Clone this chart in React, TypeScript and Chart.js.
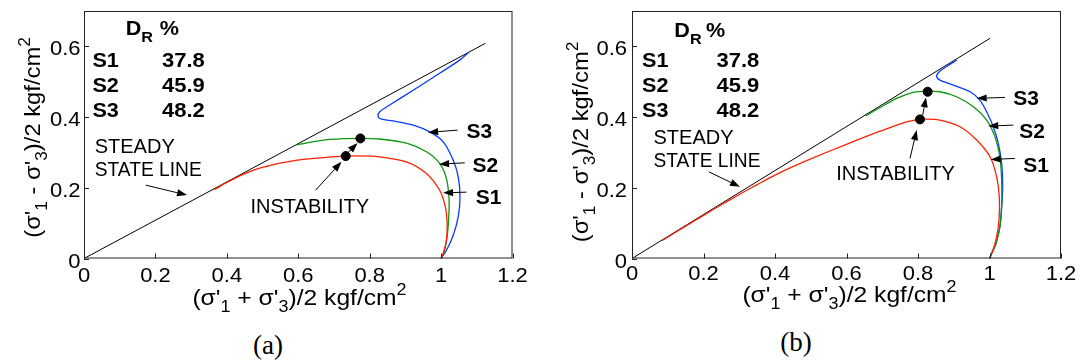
import React, { useEffect, useRef } from 'react';
import { Chart, registerables } from 'chart.js';

Chart.register(...registerables);

const FONT = "'Liberation Sans', Arial, Helvetica, sans-serif";
const RED = '#ff2000';
const GREEN = '#0c960c';
const BLUE = '#0a3cff';

// ---- axes ----
const X_TICKS = [0, 0.2, 0.4, 0.6, 0.8, 1, 1.2];
const X_TICK_LABELS = ['0', '0.2', '0.4', '0.6', '0.8', '1', '1.2'];
const Y_TICKS = [0, 0.2, 0.4, 0.6];
const Y_TICK_LABELS = ['0', '0.2', '0.4', '0.6'];

// ---- legend table ----
const SERIES_NAMES = ['S1', 'S2', 'S3'];
const DR_VALUES = ['37.8', '45.9', '48.2'];

// ---- panel (a) ----
const A_STEADY_X = [0, 1.124];
const A_STEADY_Y = [0, 0.6086];
const A_S1_X = [0.365, 0.404, 0.45, 0.5, 0.597, 0.694, 0.762, 0.828, 0.903, 0.959, 0.996, 1.012, 1.017, 1.015, 1.006, 1.0];
const A_S1_Y = [0.195, 0.217, 0.24, 0.258, 0.278, 0.2876, 0.2905, 0.2877, 0.2735, 0.2405, 0.193, 0.146, 0.099, 0.052, 0.014, 0];
const A_S2_X = [0.595, 0.64, 0.688, 0.772, 0.828, 0.903, 0.959, 0.996, 1.015, 1.022, 1.022, 1.018, 1.01, 1.0];
const A_S2_Y = [0.321, 0.33, 0.337, 0.34, 0.338, 0.326, 0.302, 0.269, 0.226, 0.174, 0.127, 0.071, 0.0235, 0];
const A_S3_X = [1.078, 1.052, 0.996, 0.922, 0.856, 0.828, 0.8235, 0.833, 0.866, 0.922, 0.968, 1.006, 1.034, 1.048, 1.053, 1.048, 1.034, 1.015, 1.0];
const A_S3_Y = [0.583, 0.561, 0.524, 0.476, 0.434, 0.415, 0.401, 0.394, 0.389, 0.377, 0.358, 0.33, 0.278, 0.231, 0.174, 0.118, 0.066, 0.0235, 0];
const A_INST_X = [0.733, 0.774];
const A_INST_Y = [0.2896, 0.3396];

// ---- panel (b) ----
const B_STEADY_X = [0, 1.0014];
const B_STEADY_Y = [0, 0.6227];
const B_S1_X = [0.085, 0.15, 0.2, 0.25, 0.3, 0.35, 0.4, 0.45, 0.5, 0.6, 0.694, 0.768, 0.815, 0.8615, 0.9175, 0.964, 1.0014, 1.02, 1.0275, 1.0266, 1.018, 1.006, 1.0];
const B_S1_Y = [0.051, 0.0915, 0.122, 0.152, 0.181, 0.209, 0.236, 0.26, 0.282, 0.323, 0.36, 0.3866, 0.394, 0.3915, 0.3725, 0.335, 0.2876, 0.231, 0.174, 0.108, 0.052, 0.014, 0];
const B_S2_X = [0.6545, 0.694, 0.74, 0.787, 0.824, 0.8615, 0.908, 0.955, 0.992, 1.0154, 1.029, 1.034, 1.034, 1.029, 1.018, 1.006, 1.0];
const B_S2_Y = [0.4036, 0.427, 0.453, 0.47, 0.4735, 0.4716, 0.4574, 0.429, 0.3915, 0.344, 0.2876, 0.2216, 0.146, 0.0894, 0.0425, 0.014, 0];
const B_S3_X = [0.908, 0.88, 0.86, 0.852, 0.8615, 0.899, 0.9455, 0.973, 0.992, 1.0106, 1.0246, 1.034, 1.037, 1.034, 1.029, 1.018, 1.006, 1.0];
const B_S3_Y = [0.561, 0.543, 0.529, 0.515, 0.5047, 0.4905, 0.4716, 0.448, 0.415, 0.3725, 0.3255, 0.269, 0.203, 0.146, 0.0894, 0.0425, 0.014, 0];
const B_INST_X = [0.8056, 0.827];
const B_INST_Y = [0.3934, 0.4716];

type Seg = { t: string; k: 'n' | 'sub' | 'sup' };
const X_TITLE: Seg[] = [
  { t: "(σ'", k: 'n' }, { t: '1', k: 'sub' }, { t: " + σ'", k: 'n' }, { t: '3', k: 'sub' },
  { t: ')/2 kgf/cm', k: 'n' }, { t: '2', k: 'sup' },
];
const Y_TITLE: Seg[] = [
  { t: "(σ'", k: 'n' }, { t: '1', k: 'sub' }, { t: " - σ'", k: 'n' }, { t: '3', k: 'sub' },
  { t: ')/2 kgf/cm', k: 'n' }, { t: '2', k: 'sup' },
];

type Pt = [number, number];
type Arrow = [number, number, number, number];
interface Layout {
  width: number;
  height: number;
  plotLeft: number;
  plotRight: number;
  plotTop: number;
  plotBottom: number;
  xLabelBase: number; // px baseline of x tick labels
  yLabelGap: number; // px gap between y labels and axis
  xTitle: [number, number]; // px centre x, baseline y
  yTitle: [number, number]; // px baseline x, centre y
  drLabel: Pt;
  drPercentX: number;
  rowsX: number;
  valuesX: number;
  rowsY: number[];
  steady: Pt;
  steadyGap: number;
  steadyArrow: Arrow;
  inst: Pt;
  instArrow: Arrow;
  dotArrow: Arrow;
  sLabels: Pt[];
  sArrows: Arrow[];
}

const zip = (xs: number[], ys: number[]) => xs.map((x, i) => ({ x, y: ys[i] }));

function text(ctx: CanvasRenderingContext2D, s: string, x: number, y: number, font: string, align: CanvasTextAlign, hs: number) {
  ctx.save();
  ctx.font = font;
  ctx.textAlign = align;
  ctx.textBaseline = 'alphabetic';
  ctx.translate(x, y);
  ctx.scale(hs, 1);
  ctx.fillText(s, 0, 0);
  ctx.restore();
}

function drawRich(ctx: CanvasRenderingContext2D, segs: Seg[], size: number, small: number) {
  // draws centred on (0,0) baseline
  let total = 0;
  const widths = segs.map((s) => {
    ctx.font = `${s.k === 'n' ? size : small}px ${FONT}`;
    const w = ctx.measureText(s.t).width;
    total += w;
    return w;
  });
  let x = -total / 2;
  ctx.textAlign = 'left';
  ctx.textBaseline = 'alphabetic';
  segs.forEach((s, i) => {
    ctx.font = `${s.k === 'n' ? size : small}px ${FONT}`;
    const dy = s.k === 'sub' ? size * 0.3 : s.k === 'sup' ? -size * 0.45 : 0;
    ctx.fillText(s.t, x, dy);
    x += widths[i];
  });
}

function drawArrow(ctx: CanvasRenderingContext2D, x1: number, y1: number, x2: number, y2: number) {
  const ang = Math.atan2(y2 - y1, x2 - x1);
  const hl = 10;
  const hw = 3.6;
  const bx = x2 - hl * Math.cos(ang);
  const by = y2 - hl * Math.sin(ang);
  ctx.beginPath();
  ctx.moveTo(x1, y1);
  ctx.lineTo(bx, by);
  ctx.lineWidth = 1;
  ctx.strokeStyle = '#000';
  ctx.stroke();
  ctx.beginPath();
  ctx.moveTo(x2, y2);
  ctx.lineTo(bx + hw * Math.sin(ang), by - hw * Math.cos(ang));
  ctx.lineTo(bx - hw * Math.sin(ang), by + hw * Math.cos(ang));
  ctx.closePath();
  ctx.fillStyle = '#000';
  ctx.fill();
}

function makeAnnotPlugin(L: Layout) {
  return {
    id: 'annot',
    afterDatasetsDraw(chart: any) {
      const ctx: CanvasRenderingContext2D = chart.ctx;
      const xs = chart.scales.x;
      const ys = chart.scales.y;
      const px = (v: number) => xs.getPixelForValue(v);
      const py = (v: number) => ys.getPixelForValue(v);
      const a = chart.chartArea;
      ctx.save();
      // frame
      ctx.strokeStyle = '#222';
      ctx.lineWidth = 1;
      ctx.strokeRect(a.left + 0.5, a.top + 0.5, a.right - a.left - 1, a.bottom - a.top - 1);
      // inward tick marks
      ctx.beginPath();
      X_TICKS.forEach((v) => {
        const x = Math.round(px(v)) + 0.5;
        ctx.moveTo(x, a.bottom);
        ctx.lineTo(x, a.bottom - 5);
      });
      Y_TICKS.forEach((v) => {
        const y = Math.round(py(v)) + 0.5;
        ctx.moveTo(a.left, y);
        ctx.lineTo(a.left + 5, y);
      });
      ctx.stroke();

      ctx.fillStyle = '#000';
      // tick labels
      const tickFont = `20px ${FONT}`;
      X_TICKS.forEach((v, i) => text(ctx, X_TICK_LABELS[i], px(v), L.xLabelBase, tickFont, 'center', 1.1));
      Y_TICKS.forEach((v, i) => text(ctx, Y_TICK_LABELS[i], a.left - L.yLabelGap, py(v) + 9, tickFont, 'right', 1.1));

      // axis titles
      ctx.save();
      ctx.translate(L.xTitle[0], L.xTitle[1]);
      ctx.scale(1.12, 1);
      drawRich(ctx, X_TITLE, 22, 16);
      ctx.restore();
      ctx.save();
      ctx.translate(L.yTitle[0], L.yTitle[1]);
      ctx.rotate(-Math.PI / 2);
      ctx.scale(1.08, 1);
      drawRich(ctx, Y_TITLE, 22, 16);
      ctx.restore();

      // D_R % table
      const bold = `bold 20px ${FONT}`;
      const dx = px(L.drLabel[0]);
      const dy = py(L.drLabel[1]);
      text(ctx, 'D', dx, dy, bold, 'left', 1.08);
      ctx.font = bold;
      const wD = ctx.measureText('D').width * 1.08;
      text(ctx, 'R', dx + wD, dy + 7, `bold 15px ${FONT}`, 'left', 1.08);
      text(ctx, '%', px(L.drPercentX), dy, bold, 'left', 1.08);
      SERIES_NAMES.forEach((n, i) => {
        text(ctx, n, px(L.rowsX), py(L.rowsY[i]), bold, 'left', 1.08);
        text(ctx, DR_VALUES[i], px(L.valuesX), py(L.rowsY[i]), bold, 'left', 1.1);
      });

      // steady state line label
      const plain = `20px ${FONT}`;
      text(ctx, 'STEADY', px(L.steady[0]), py(L.steady[1]), plain, 'left', 1.0);
      text(ctx, 'STATE LINE', px(L.steady[0]), py(L.steady[1]) + L.steadyGap, plain, 'left', 0.96);
      const sa = L.steadyArrow;
      drawArrow(ctx, px(sa[0]), py(sa[1]), px(sa[2]), py(sa[3]));

      // instability
      text(ctx, 'INSTABILITY', px(L.inst[0]), py(L.inst[1]), plain, 'center', 1.0);
      const ia = L.instArrow;
      drawArrow(ctx, px(ia[0]), py(ia[1]), px(ia[2]), py(ia[3]));
      const da = L.dotArrow;
      drawArrow(ctx, px(da[0]), py(da[1]), px(da[2]), py(da[3]));

      // series labels
      SERIES_NAMES.forEach((n, i) => {
        text(ctx, n, px(L.sLabels[i][0]), py(L.sLabels[i][1]), `bold 21px ${FONT}`, 'left', 1.0);
        const ar = L.sArrows[i];
        drawArrow(ctx, px(ar[0]), py(ar[1]), px(ar[2]), py(ar[3]));
      });
      ctx.restore();
    },
  };
}

interface PanelData {
  steady: [number[], number[]];
  s1: [number[], number[]];
  s2: [number[], number[]];
  s3: [number[], number[]];
  inst: [number[], number[]];
}

function makeConfig(D: PanelData, L: Layout): any {
  const curve = (label: string, d: [number[], number[]], color: string) => ({
    label,
    data: zip(d[0], d[1]),
    borderColor: color,
    borderWidth: 1.3,
    pointRadius: 0,
    tension: 0.3,
    fill: false,
    order: 1,
  });
  return {
    type: 'line',
    data: {
      datasets: [
        { label: 'steady', data: zip(D.steady[0], D.steady[1]), borderColor: '#000', borderWidth: 1, pointRadius: 0, tension: 0, fill: false, order: 2 },
        curve('S1', D.s1, RED),
        curve('S2', D.s2, GREEN),
        curve('S3', D.s3, BLUE),
        {
          label: 'instability',
          data: zip(D.inst[0], D.inst[1]),
          showLine: false,
          pointRadius: 4.5,
          pointBackgroundColor: '#000',
          pointBorderColor: '#000',
          borderColor: '#000',
          order: 0,
        },
      ],
    },
    options: {
      animation: false,
      responsive: false,
      maintainAspectRatio: false,
      events: [],
      layout: { padding: { left: 0, right: L.width - L.plotRight, top: L.plotTop, bottom: 0 } },
      plugins: { legend: { display: false }, tooltip: { enabled: false } },
      scales: {
        x: {
          type: 'linear',
          min: 0,
          max: 1.2,
          afterBuildTicks: (s: any) => { s.ticks = X_TICKS.map((v) => ({ value: v })); },
          afterFit: (s: any) => { s.height = L.height - L.plotBottom; },
          grid: { display: false, drawTicks: false },
          border: { display: false },
          ticks: { display: false },
        },
        y: {
          type: 'linear',
          min: 0,
          max: 0.7,
          afterBuildTicks: (s: any) => { s.ticks = Y_TICKS.map((v) => ({ value: v })); },
          afterFit: (s: any) => { s.width = L.plotLeft; },
          grid: { display: false, drawTicks: false },
          border: { display: false },
          ticks: { display: false },
        },
      },
    },
    plugins: [makeAnnotPlugin(L)],
  };
}

const LAYOUT_A: Layout = {
  width: 540, height: 320,
  plotLeft: 84, plotRight: 512.5, plotTop: 11, plotBottom: 258.5,
  xLabelBase: 282, yLabelGap: 3.5,
  xTitle: [299.5, 305], yTitle: [40, 137.5],
  drLabel: [0.1168, 0.632], drPercentX: 0.212, rowsX: 0.0235, valuesX: 0.2185, rowsY: [0.5423, 0.4715, 0.4008],
  steady: [0.03, 0.298], steadyGap: 23,
  steadyArrow: [0.173, 0.2075, 0.2885, 0.1793],
  inst: [0.6322, 0.1274],
  instArrow: [0.6487, 0.1933, 0.721, 0.2734],
  dotArrow: [0.738, 0.298, 0.766, 0.327],
  sLabels: [[1.097, 0.1537], [1.088, 0.2451], [1.071, 0.3397]],
  sArrows: [
    [1.071, 0.1877, 1.0056, 0.1857],
    [1.0664, 0.2706, 0.9944, 0.2669],
    [1.046, 0.3631, 0.9636, 0.3566],
  ],
};

const LAYOUT_B: Layout = {
  width: 541, height: 320,
  plotLeft: 92, plotRight: 521, plotTop: 11, plotBottom: 258.5,
  xLabelBase: 280, yLabelGap: 5,
  xTitle: [309.5, 302], yTitle: [48, 142],
  drLabel: [0.1183, 0.6264], drPercentX: 0.207, rowsX: 0.028, valuesX: 0.2364, rowsY: [0.5415, 0.4707, 0.4],
  steady: [0.0601, 0.3235], steadyGap: 22.7,
  steadyArrow: [0.2151, 0.2451, 0.3021, 0.2027],
  inst: [0.737, 0.2216],
  instArrow: [0.7776, 0.283, 0.7964, 0.3631],
  dotArrow: [0.8131, 0.4056, 0.8224, 0.4557],
  sLabels: [[1.0945, 0.2451], [1.0833, 0.3397], [1.0666, 0.4339]],
  sArrows: [
    [1.0713, 0.283, 1.0033, 0.2802],
    [1.0666, 0.3773, 0.9966, 0.3745],
    [1.0434, 0.4557, 0.9642, 0.4529],
  ],
};

const DATA_A: PanelData = {
  steady: [A_STEADY_X, A_STEADY_Y],
  s1: [A_S1_X, A_S1_Y],
  s2: [A_S2_X, A_S2_Y],
  s3: [A_S3_X, A_S3_Y],
  inst: [A_INST_X, A_INST_Y],
};
const DATA_B: PanelData = {
  steady: [B_STEADY_X, B_STEADY_Y],
  s1: [B_S1_X, B_S1_Y],
  s2: [B_S2_X, B_S2_Y],
  s3: [B_S3_X, B_S3_Y],
  inst: [B_INST_X, B_INST_Y],
};

function Panel({ data, layout, left }: { data: PanelData; layout: Layout; left: number }) {
  const ref = useRef<HTMLCanvasElement | null>(null);
  useEffect(() => {
    if (!ref.current) return;
    const chart = new Chart(ref.current, makeConfig(data, layout));
    return () => chart.destroy();
  }, [data, layout]);
  return (
    <canvas
      ref={ref}
      width={layout.width}
      height={layout.height}
      style={{ position: 'absolute', left, top: 0, width: layout.width, height: layout.height }}
    />
  );
}

const captionStyle: React.CSSProperties = {
  position: 'absolute',
  top: 329,
  width: 80,
  textAlign: 'center',
  fontFamily: "'Liberation Serif', 'Times New Roman', serif",
  fontSize: 27,
  lineHeight: '32px',
  color: '#000',
};

export default function App() {
  return (
    <div style={{ position: 'fixed', left: 0, top: 0, width: 1081, height: 364, background: '#fff', overflow: 'hidden' }}>
      <Panel data={DATA_A} layout={LAYOUT_A} left={0} />
      <Panel data={DATA_B} layout={LAYOUT_B} left={540} />
      <div style={{ ...captionStyle, left: 268 - 40 }}>(a)</div>
      <div style={{ ...captionStyle, left: 796 - 40, top: 326 }}>(b)</div>
    </div>
  );
}
